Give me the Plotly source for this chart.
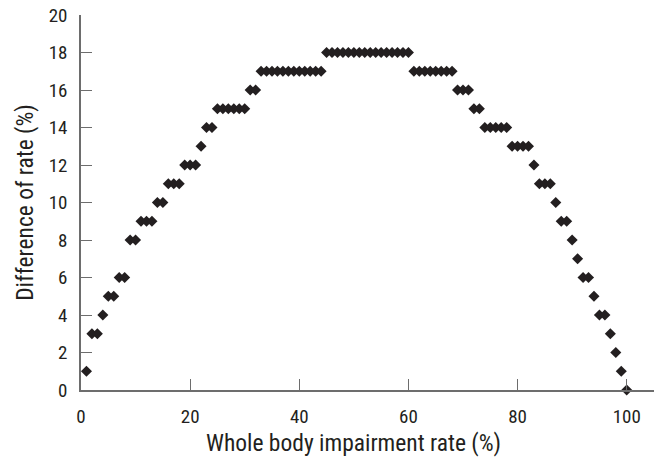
import plotly.graph_objects as go

impairment_rate = list(range(1, 101))
difference_rate = (
    [1, 3, 3, 4, 5, 5, 6, 6, 8, 8,
     9, 9, 9, 10, 10, 11, 11, 11, 12, 12,
     12, 13, 14, 14]
    + [15] * 6
    + [16] * 2
    + [17] * 12
    + [18] * 16
    + [17] * 8
    + [16] * 3
    + [15] * 2
    + [14] * 5
    + [13] * 4
    + [12]
    + [11] * 3
    + [10]
    + [9] * 2
    + [8, 7, 6, 6, 5, 4, 4, 3, 2, 1, 0]
)
x_ticks = [0, 20, 40, 60, 80, 100]
y_ticks = list(range(0, 21, 2))
x_title = "Whole body impairment rate (%)"
y_title = "Difference of rate (%)"

FONT = "Liberation Sans Narrow, Arial Narrow, Roboto Condensed, Liberation Sans, sans-serif"
INK = "#231f20"
AXIS = "#6d6d6d"

fig = go.Figure(
    go.Scatter(
        x=impairment_rate,
        y=difference_rate,
        mode="markers",
        marker=dict(symbol="diamond", size=8.5, color=INK, line=dict(width=0)),
        cliponaxis=False,
        showlegend=False,
    )
)

fig.update_layout(
    width=659,
    height=457,
    margin=dict(l=81, r=5, t=15, b=67, autoexpand=False),
    paper_bgcolor="white",
    plot_bgcolor="white",
    font=dict(family=FONT, size=19, color=INK),
    xaxis=dict(
        range=[0, 105],
        tickvals=x_ticks,
        ticks="inside",
        ticklen=11,
        tickcolor=AXIS,
        showline=True,
        linecolor=AXIS,
        linewidth=1.5,
        showgrid=False,
        zeroline=False,
        automargin=False,
        ticklabelstandoff=8,
    ),
    yaxis=dict(
        range=[0, 20],
        tickvals=y_ticks,
        ticks="inside",
        ticklen=11,
        tickcolor=AXIS,
        showline=True,
        linecolor=AXIS,
        linewidth=1.5,
        showgrid=False,
        zeroline=False,
        automargin=False,
        ticklabelstandoff=8,
        title=dict(text=y_title, font=dict(size=23.5), standoff=8),
    ),
    annotations=[
        dict(
            text=x_title,
            x=50,
            xref="x",
            y=0,
            yref="paper",
            yanchor="middle",
            yshift=-53,
            showarrow=False,
            font=dict(size=23.5, family=FONT, color=INK),
        )
    ],
)

fig.write_html(
    "out.html",
    config={"displayModeBar": False},
    post_script="document.body.style.margin='0';document.body.style.padding='0';",
)
